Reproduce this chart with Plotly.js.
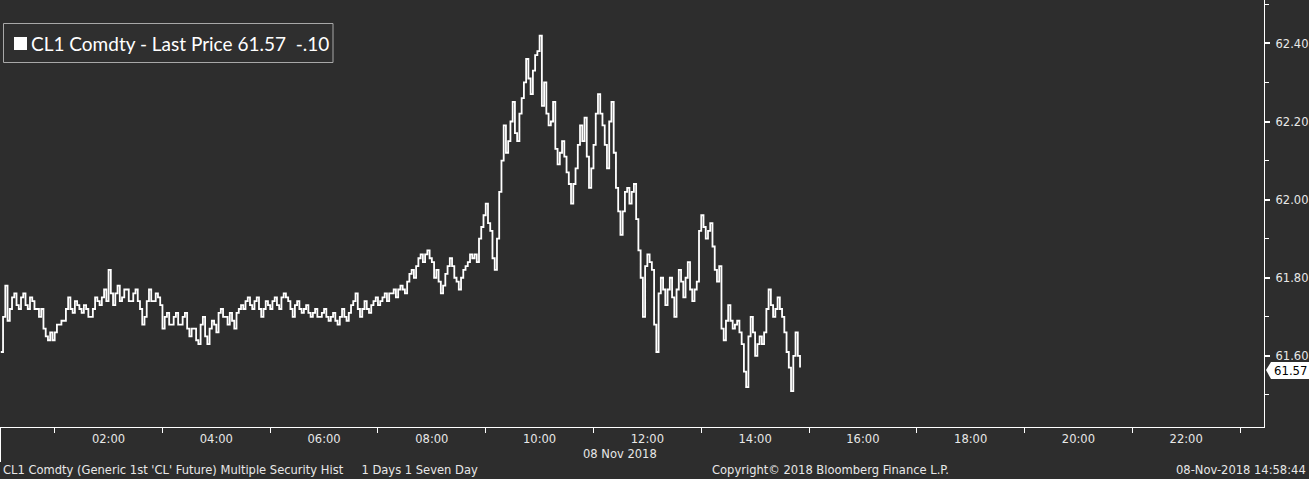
<!DOCTYPE html>
<html>
<head>
<meta charset="utf-8">
<script src="https://cdn.plot.ly/plotly-3.0.1.min.js"></script>
<style>
html,body{margin:0;padding:0;background:#2d2d2d;overflow:hidden;}
#chart{width:1309px;height:479px;}
</style>
</head>
<body>
<div id="chart"></div>
<script>
// CL1 Comdty last price, samples every 2.5 minutes from 00:00 on 08 Nov 2018
const seriesStart = '2018-11-08T00:00:00';
const stepSeconds = 150;
const prices = [
61.61,61.70,61.78,61.69,61.72,61.75,61.76,61.73,61.72,61.75,
61.76,61.73,61.72,61.75,61.74,61.72,61.72,61.70,61.72,61.67,
61.65,61.64,61.66,61.64,61.66,61.68,61.68,61.69,61.69,61.72,
61.75,61.72,61.71,61.74,61.73,61.72,61.71,61.73,61.72,61.70,
61.70,61.72,61.75,61.74,61.73,61.75,61.77,61.74,61.82,61.76,
61.73,61.76,61.78,61.74,61.75,61.77,61.77,61.74,61.74,61.76,
61.77,61.74,61.72,61.68,61.70,61.74,61.77,61.74,61.74,61.76,
61.75,61.73,61.67,61.70,61.71,61.68,61.68,61.70,61.71,61.68,
61.68,61.70,61.71,61.67,61.65,61.67,61.67,61.64,61.63,61.68,
61.70,61.65,61.63,61.67,61.69,61.68,61.66,61.71,61.72,61.70,
61.70,61.68,61.71,61.69,61.67,61.71,61.72,61.73,61.72,61.74,
61.75,61.73,61.72,61.74,61.75,61.72,61.70,61.72,61.74,61.73,
61.72,61.74,61.75,61.73,61.72,61.75,61.76,61.75,61.74,61.72,
61.70,61.73,61.74,61.72,61.71,61.72,61.73,61.71,61.70,61.71,
61.72,61.70,61.70,61.71,61.72,61.70,61.69,61.70,61.71,61.69,
61.68,61.70,61.72,61.70,61.69,61.71,61.73,61.74,61.76,61.72,
61.70,61.72,61.74,61.72,61.71,61.73,61.74,61.75,61.73,61.74,
61.75,61.76,61.74,61.76,61.76,61.77,61.75,61.77,61.78,61.77,
61.76,61.79,61.81,61.82,61.80,61.83,61.85,61.86,61.84,61.86,
61.87,61.85,61.84,61.80,61.82,61.79,61.76,61.78,61.81,61.83,
61.85,61.83,61.80,61.79,61.77,61.80,61.82,61.83,61.84,61.86,
61.85,61.86,61.84,61.90,61.93,61.96,61.99,61.94,61.92,61.85,
61.82,61.90,62.02,62.10,62.19,62.12,62.15,62.20,62.25,62.17,
62.15,62.22,62.26,62.30,62.36,62.31,62.27,62.33,62.37,62.38,
62.42,62.24,62.30,62.22,62.19,62.20,62.25,62.13,62.09,62.12,
62.15,62.11,62.07,62.04,61.99,62.04,62.08,62.14,62.19,62.15,
62.21,62.11,62.03,62.08,62.14,62.22,62.27,62.22,62.19,62.14,
62.08,62.20,62.25,62.12,62.03,61.97,61.91,61.97,62.02,62.03,
61.99,62.02,62.04,61.95,61.87,61.80,61.70,61.83,61.86,61.84,
61.82,61.68,61.61,61.76,61.80,61.77,61.73,61.77,61.80,61.75,
61.70,61.77,61.82,61.79,61.75,61.80,61.84,61.77,61.74,61.77,
61.79,61.92,61.96,61.93,61.90,61.92,61.94,61.88,61.82,61.79,
61.83,61.67,61.64,61.69,61.73,61.69,61.67,61.68,61.69,61.66,
61.63,61.56,61.52,61.65,61.70,61.66,61.60,61.63,61.65,61.63,
61.66,61.72,61.77,61.73,61.70,61.72,61.75,61.72,61.70,61.66,
61.61,61.57,61.51,61.60,61.66,61.60,61.57
];
const yTickVals = [61.6, 61.8, 62.0, 62.2, 62.4];
const yTickText = ['61.60', '61.80', '62.00', '62.20', '62.40'];
const yMinorVals = [61.5, 61.7, 61.9, 62.1, 62.3, 62.5];
const xLabelHours = ['02:00','04:00','06:00','08:00','10:00','12:00','14:00','16:00','18:00','20:00','22:00'];
const xTickHours = ['01:00','03:00','05:00','07:00','09:00','11:00','13:00','15:00','17:00','19:00','21:00','23:00'];
const lastPrice = '61.57';
const legendText = 'CL1 Comdty - Last Price 61.57\u00a0\u00a0-.10';
const dateLabel = '08 Nov 2018';
const footerLeft = "CL1 Comdty (Generic 1st 'CL' Future) Multiple Security Hist\u00a0\u00a0\u00a0\u00a0\u00a01 Days 1 Seven Day";
const footerMid = 'Copyright\u00a9 2018 Bloomberg Finance L.P.';
const footerRight = '08-Nov-2018 14:58:44';

function pad(n){return (n<10?'0':'')+n;}
const t0 = new Date(seriesStart + 'Z').getTime();
const times = prices.map((_, i) => {
  const d = new Date(t0 + i * stepSeconds * 1000);
  return d.getUTCFullYear() + '-' + pad(d.getUTCMonth()+1) + '-' + pad(d.getUTCDate()) + ' ' +
         pad(d.getUTCHours()) + ':' + pad(d.getUTCMinutes()) + ':' + pad(d.getUTCSeconds());
});

const W = 1264, H = 427;
const px = v => v / W;
const py = v => 1 - v / H;

const font = 'DejaVu Sans Condensed, DejaVu Sans, sans-serif';
const fs = 12.8;
const txt = '#e8e8e8';

const trace = {
  x: times, y: prices, type: 'scatter', mode: 'lines',
  line: {color: '#ffffff', width: 1.8, shape: 'hv'},
  hoverinfo: 'skip'
};

const layout = {
  width: 1309, height: 479,
  margin: {l: 0, r: 45, t: 0, b: 52, pad: 0},
  paper_bgcolor: '#2d2d2d', plot_bgcolor: '#2d2d2d',
  showlegend: false,
  xaxis: {
    type: 'date',
    range: ['2018-11-07 23:59:06', '2018-11-08 23:26:40'],
    tickmode: 'array',
    tickvals: xLabelHours.map(h => '2018-11-08 ' + h),
    ticktext: xLabelHours,
    ticks: '', showgrid: false, zeroline: false,
    showline: true, linecolor: '#ffffff', linewidth: 1,
    tickfont: {family: font, size: fs, color: txt},
    minor: {tickmode: 'array', tickvals: xTickHours.map(h => '2018-11-08 ' + h), ticks: 'outside', ticklen: 5, tickcolor: '#ffffff', tickwidth: 1, showgrid: false}
  },
  yaxis: {
    side: 'right',
    range: [61.418, 62.511],
    tickmode: 'array', tickvals: yTickVals, ticktext: yTickText,
    ticks: 'outside', ticklen: 5, tickwidth: 2, tickcolor: '#ffffff',
    ticklabelstandoff: 3,
    showgrid: false, zeroline: false,
    showline: true, linecolor: '#ffffff', linewidth: 1,
    tickfont: {family: font, size: fs, color: txt},
    minor: {tickmode: 'array', tickvals: yMinorVals, ticks: 'outside', ticklen: 4, tickcolor: '#ffffff', tickwidth: 1, showgrid: false}
  },
  shapes: [
    {type: 'rect', xref: 'paper', yref: 'paper', x0: px(3.5), x1: px(333), y0: py(62.5), y1: py(23.5),
     line: {color: '#a8a8a8', width: 1}, fillcolor: '#2f2f2f', layer: 'above'},
    {type: 'rect', xref: 'paper', yref: 'paper', x0: px(14), x1: px(27), y0: py(50), y1: py(37),
     line: {width: 0}, fillcolor: '#ffffff', layer: 'above'},
    {type: 'line', xref: 'paper', yref: 'paper', x0: px(0.5), x1: px(0.5), y0: 0, y1: py(462),
     line: {color: '#ffffff', width: 1}, layer: 'above'},
    {type: 'path', xref: 'paper', yref: 'paper', layer: 'above',
     path: 'M ' + px(1266) + ' ' + py(370) + ' L ' + px(1271) + ' ' + py(362) + ' L ' + px(1310) + ' ' + py(362) +
           ' L ' + px(1310) + ' ' + py(379) + ' L ' + px(1271) + ' ' + py(379) + ' Z',
     fillcolor: '#ffffff', line: {width: 0}}
  ],
  annotations: [
    {xref: 'paper', yref: 'paper', x: px(29), y: py(43.5), xanchor: 'left', yanchor: 'middle', showarrow: false,
     text: legendText, font: {family: 'Lato, Open Sans, sans-serif', size: 19, color: '#ffffff'}},
    {xref: 'paper', yref: 'paper', x: px(1272), y: py(370.5), xanchor: 'left', yanchor: 'middle', showarrow: false,
     text: lastPrice, font: {family: font, size: 13, color: '#000000'}},
    {xref: 'paper', yref: 'paper', x: px(620), y: py(453), xanchor: 'center', yanchor: 'middle', showarrow: false,
     text: dateLabel, font: {family: font, size: fs, color: txt}},
    {xref: 'paper', yref: 'paper', x: px(1), y: py(470), xanchor: 'left', yanchor: 'middle', showarrow: false,
     text: footerLeft, font: {family: font, size: fs, color: txt}},
    {xref: 'paper', yref: 'paper', x: px(710), y: py(470), xanchor: 'left', yanchor: 'middle', showarrow: false,
     text: footerMid, font: {family: font, size: fs, color: txt}},
    {xref: 'paper', yref: 'paper', x: px(1308), y: py(470), xanchor: 'right', yanchor: 'middle', showarrow: false,
     text: footerRight, font: {family: font, size: fs, color: txt}}
  ]
};

Plotly.newPlot('chart', [trace], layout, {staticPlot: true, displayModeBar: false});
</script>
</body>
</html>
